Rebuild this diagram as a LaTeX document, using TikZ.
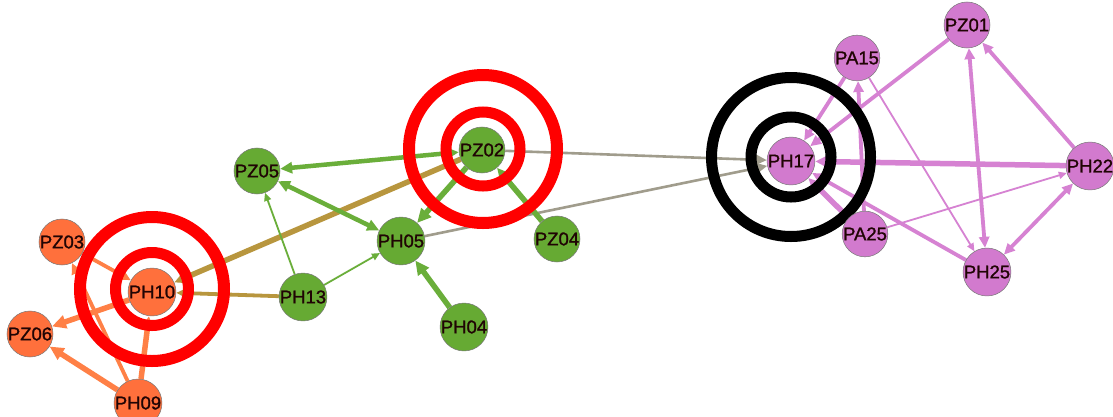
\documentclass[tikz,border=0pt]{standalone}
\usepackage{fontspec}
\newfontfamily\labfont{Liberation Sans}[FakeBold=1.2]
\usetikzlibrary{arrows.meta}
\definecolor{orN}{RGB}{255,112,60}
\definecolor{grN}{RGB}{102,170,51}
\definecolor{puN}{RGB}{210,122,206}
\definecolor{orE}{RGB}{255,128,70}
\definecolor{grE}{RGB}{106,174,58}
\definecolor{puE}{RGB}{214,130,210}
\definecolor{tnE}{RGB}{184,150,62}
\definecolor{gyE}{RGB}{160,156,140}
\definecolor{labC}{RGB}{32,4,4}
\definecolor{bdC}{RGB}{120,120,120}
\pgfdeclarelayer{bgl}
\pgfdeclarelayer{edges}
\pgfdeclarelayer{rings}
\pgfsetlayers{bgl,edges,rings,main}
\tikzset{
  vtx/.style={circle, draw=bdC, line width=0.5pt, minimum size=31pt, inner sep=0pt,
    text=labC, font=\labfont\fontsize{18.5}{18.5}\selectfont},
  onode/.style={vtx, fill=orN},
  gnode/.style={vtx, fill=grN},
  pnode/.style={vtx, fill=puN},
  ea/.style={-{Triangle[length=14pt,width=13pt]}, line width=5.5pt},
  eb/.style={-{Triangle[length=11pt,width=10pt]}, line width=3.8pt},
  ec/.style={-{Triangle[length=8pt,width=7pt]}, line width=1.8pt},
  eab/.style={{Triangle[length=12pt,width=11pt]}-{Triangle[length=12pt,width=11pt]}, line width=4.5pt},
  ebb/.style={{Triangle[length=11pt,width=10pt]}-{Triangle[length=11pt,width=10pt]}, line width=3.8pt},
  ring/.style={circle, inner sep=0pt, outer sep=0pt},
}
\begin{document}
\begin{tikzpicture}[x=1pt,y=-1pt]
\begin{pgfonlayer}{bgl}
\fill[white] (0,0) rectangle (1113,416);
\end{pgfonlayer}
\useasboundingbox (0,0) rectangle (1113,416);
% orange
\node[onode] (PZ03) at (62,242) {PZ03};
\node[onode] (PH10) at (152,292) {PH10};
\node[onode] (PZ06) at (30,334) {PZ06};
\node[onode] (PH09) at (138,403) {PH09};
% green
\node[gnode] (PZ05) at (257,171) {PZ05};
\node[gnode] (PZ02) at (482,150) {PZ02};
\node[gnode] (PH05) at (401,241) {PH05};
\node[gnode] (PZ04) at (557,239) {PZ04};
\node[gnode] (PH13) at (303,297) {PH13};
\node[gnode] (PH04) at (464,327) {PH04};
% purple
\node[pnode] (PZ01) at (967,25) {PZ01};
\node[pnode] (PA15) at (857,58) {PA15};
\node[pnode] (PH17) at (791,161) {PH17};
\node[pnode] (PH22) at (1090,166) {PH22};
\node[pnode] (PA25) at (865,234) {PA25};
\node[pnode] (PH25) at (987,272) {PH25};

\begin{pgfonlayer}{edges}
% orange edges
\draw[orE, ea] (PH10) -- (PZ06);
\draw[orE, ea] (PH09) -- (PZ06);
\draw[orE, ea] (PH09) -- (PH10);
\draw[orE, eb] (PH09) -- (PZ03);
\draw[orE, eb] (PZ03) -- (PH10);
% tan edges
\draw[tnE, ea] (PZ02) -- (PH10);
\draw[tnE, eb] (PH13) -- (PH10);
% gray edges
\draw[gyE, eb, line width=2.6pt] (PZ02) -- (PH17);
\draw[gyE, eb, line width=2.6pt] (PH05) -- (PH17);
% green edges
\draw[grE, eab] (PZ02) -- (PZ05);
\draw[grE, eab] (PZ05) -- (PH05);
\draw[grE, ec] (PH13) -- (PZ05);
\draw[grE, ec] (PH13) -- (PH05);
\draw[grE, ea] (PZ02) -- (PH05);
\draw[grE, ea] (PZ04) -- (PZ02);
\draw[grE, ea] (PH04) -- (PH05);
% purple edges
\draw[puE, eb] (PA15) -- (PH17);
\draw[puE, eb] (PZ01) -- (PH17);
\draw[puE, eb] (PA25) -- (PA15);
\draw[puE, ec] (PA15) -- (PH25);
\draw[puE, ebb] (PZ01) -- (PH25);
\draw[puE, eb] (PH22) -- (PZ01);
\draw[puE, ea] (PH22) -- (PH17);
\draw[puE, ec] (PA25) -- (PH22);
\draw[puE, ebb] (PH22) -- (PH25);
\draw[puE, eb] (PH25) -- (PH17);
\draw[puE, ea] (PA25) -- (PH17);
\end{pgfonlayer}

\begin{pgfonlayer}{rings}
\node[ring, draw=red, line width=12pt, minimum size=144pt] (rA1) at (152,289) {};
\node[ring, draw=red, line width=11pt, minimum size=73pt] (rA2) at (152,289) {};
\node[ring, draw=red, line width=12pt, minimum size=148pt] (rB1) at (483,149) {};
\node[ring, draw=red, line width=11pt, minimum size=74pt] (rB2) at (483,149) {};
\node[ring, draw=black, line width=11pt, minimum size=159pt] (rC1) at (791,157) {};
\node[ring, draw=black, line width=11pt, minimum size=80pt] (rC2) at (791,157) {};
\end{pgfonlayer}
\end{tikzpicture}
\end{document}
